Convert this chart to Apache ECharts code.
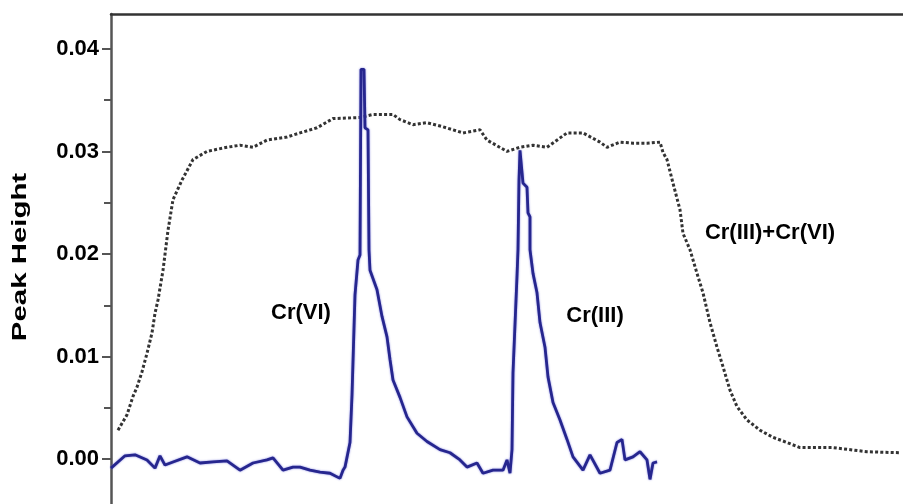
<!DOCTYPE html>
<html>
<head>
<meta charset="utf-8">
<script src="https://cdn.jsdelivr.net/npm/echarts@6/dist/echarts.min.js"></script>
<style>
  html, body { margin: 0; padding: 0; background: #fff; }
  #chart { width: 903px; height: 504px; }
</style>
</head>
<body>
<div id="chart"></div>
<script>
// x = scan position (arbitrary units), y = peak height
var crVI_III_x = [0, 14, 24, 36, 44, 49, 54, 62, 76, 89, 102, 116, 129, 142, 156, 162, 172, 182, 189, 199, 209, 219, 229, 232, 234, 239, 241, 244, 247, 249, 250, 253, 254, 257, 258, 259, 266, 271, 276, 279, 282, 289, 296, 306, 316, 329, 339, 349, 356, 366, 372, 382, 392, 396, 399, 401, 402, 406, 407, 408, 409, 411, 412, 416, 417, 419, 419, 422, 426, 429, 434, 437, 442, 449, 456, 462, 472, 479, 489, 499, 506, 511, 514, 522, 529, 536, 539, 542, 546]
var crVI_III_y = [-0.0009, 0.0003, 0.0004, -0.0001, -0.0009, 0.0003, -0.0006, -0.0003, 0.0002, -0.0004, -0.0003, -0.0002, -0.0011, -0.0004, -0.0001, 0.0001, -0.0011, -0.0008, -0.0008, -0.0011, -0.0013, -0.0014, -0.0019, -0.0011, -0.0008, 0.0016, 0.0062, 0.0160, 0.0194, 0.0199, 0.0380, 0.0380, 0.0323, 0.0321, 0.0204, 0.0184, 0.0165, 0.0139, 0.0119, 0.0097, 0.0077, 0.0060, 0.0041, 0.0025, 0.0017, 0.0009, 0.0006, -0.0001, -0.0008, -0.0004, -0.0014, -0.0011, -0.0011, -0.0001, -0.0014, 0.0009, 0.0084, 0.0178, 0.0204, 0.0272, 0.0301, 0.0300, 0.0269, 0.0265, 0.0240, 0.0236, 0.0204, 0.0181, 0.0162, 0.0133, 0.0109, 0.0080, 0.0055, 0.0038, 0.0019, 0.0002, -0.0011, 0.0004, -0.0014, -0.0011, 0.0016, 0.0019, -0.0001, 0.0002, 0.0007, -0.0001, -0.0020, -0.0004, -0.0003]

var mix_x = [7, 16, 22, 26, 31, 36, 41, 44, 47, 52, 57, 62, 71, 82, 96, 116, 129, 142, 156, 176, 189, 206, 222, 249, 262, 282, 289, 302, 316, 332, 352, 369, 376, 396, 409, 422, 436, 456, 472, 489, 496, 509, 522, 536, 549, 552, 556, 562, 569, 572, 579, 586, 592, 599, 606, 612, 619, 626, 636, 649, 662, 676, 689, 722, 756, 789]
var mix_y = [0.0028, 0.0043, 0.0061, 0.0070, 0.0085, 0.0103, 0.0123, 0.0142, 0.0155, 0.0184, 0.0223, 0.0253, 0.0272, 0.0292, 0.0300, 0.0304, 0.0306, 0.0304, 0.0311, 0.0314, 0.0318, 0.0323, 0.0332, 0.0333, 0.0336, 0.0336, 0.0331, 0.0326, 0.0328, 0.0324, 0.0318, 0.0321, 0.0311, 0.0300, 0.0304, 0.0306, 0.0304, 0.0318, 0.0318, 0.0309, 0.0304, 0.0309, 0.0308, 0.0308, 0.0309, 0.0299, 0.0292, 0.0269, 0.0243, 0.0220, 0.0204, 0.0181, 0.0162, 0.0133, 0.0109, 0.0090, 0.0067, 0.0051, 0.0038, 0.0028, 0.0021, 0.0016, 0.0011, 0.0011, 0.0007, 0.0006]

var yTicks = [0, 0.01, 0.02, 0.03, 0.04]

function pairs(xs, ys) {
    var out = []
    for (var i = 0; i < xs.length; i++) out.push([xs[i], ys[i]])
    return out
}

var myChart = echarts.init(document.getElementById('chart'))
var boldFont = 'Liberation Sans, Arial, sans-serif'

myChart.setOption({
    animation: false,
    backgroundColor: '#fff',
    grid: [
        { left: 111, right: 0, top: 14, bottom: 0 },
        { left: 111, right: 0, top: 49, bottom: 45 }
    ],
    xAxis: [
        {
            type: 'value', gridIndex: 0, position: 'top', min: 0, max: 792,
            axisLine: { show: true, onZero: false, lineStyle: { color: '#333', width: 2.5 } },
            axisTick: { show: false }, axisLabel: { show: false }, splitLine: { show: false }
        },
        {
            type: 'value', gridIndex: 1, min: 0, max: 792, show: false,
            axisLine: { show: false, onZero: false }
        }
    ],
    yAxis: [
        {
            type: 'value', gridIndex: 0, min: -0.0044, max: 0.0434,
            axisLine: { show: true, onZero: false, lineStyle: { color: '#555', width: 2.5 } },
            axisTick: { show: false }, axisLabel: { show: false }, splitLine: { show: false }
        },
        {
            type: 'value', gridIndex: 1, min: yTicks[0], max: yTicks[yTicks.length - 1], interval: 0.01,
            axisLine: { show: false, onZero: false },
            axisTick: { show: true, length: 9, lineStyle: { color: '#555', width: 2 } },
            minorTick: { show: true, splitNumber: 2, length: 7, lineStyle: { color: '#555', width: 2 } },
            splitLine: { show: false },
            axisLabel: {
                margin: 12, color: '#000', fontWeight: 'bold', fontSize: 22, fontFamily: boldFont,
                formatter: function (v) { return v.toFixed(2) }
            }
        }
    ],
    series: [
        {
            name: 'Cr(III)+Cr(VI)',
            type: 'line',
            xAxisIndex: 0, yAxisIndex: 0,
            showSymbol: false,
            data: pairs(mix_x, mix_y),
            lineStyle: { color: '#333', width: 3, type: [3, 2.2] }
        },
        {
            name: 'Cr',
            type: 'line',
            xAxisIndex: 0, yAxisIndex: 0,
            showSymbol: false,
            data: pairs(crVI_III_x, crVI_III_y),
            lineStyle: {
                color: '#26268e', width: 2.8,
                shadowColor: 'rgba(90,90,210,0.8)', shadowBlur: 2
            }
        }
    ],
    graphic: [
        {
            type: 'text', x: 20, y: 257, rotation: Math.PI / 2, scaleX: 1.4,
            style: {
                text: 'Peak Height', fill: '#000', align: 'center', verticalAlign: 'middle',
                font: 'bold 21px ' + boldFont
            }
        },
        {
            type: 'text', x: 301, y: 313,
            style: { text: 'Cr(VI)', fill: '#000', align: 'center', verticalAlign: 'middle', font: 'bold 22px ' + boldFont }
        },
        {
            type: 'text', x: 595, y: 316,
            style: { text: 'Cr(III)', fill: '#000', align: 'center', verticalAlign: 'middle', font: 'bold 22px ' + boldFont }
        },
        {
            type: 'text', x: 770, y: 233,
            style: { text: 'Cr(III)+Cr(VI)', fill: '#000', align: 'center', verticalAlign: 'middle', font: 'bold 22px ' + boldFont }
        }
    ]
})
</script>
</body>
</html>
